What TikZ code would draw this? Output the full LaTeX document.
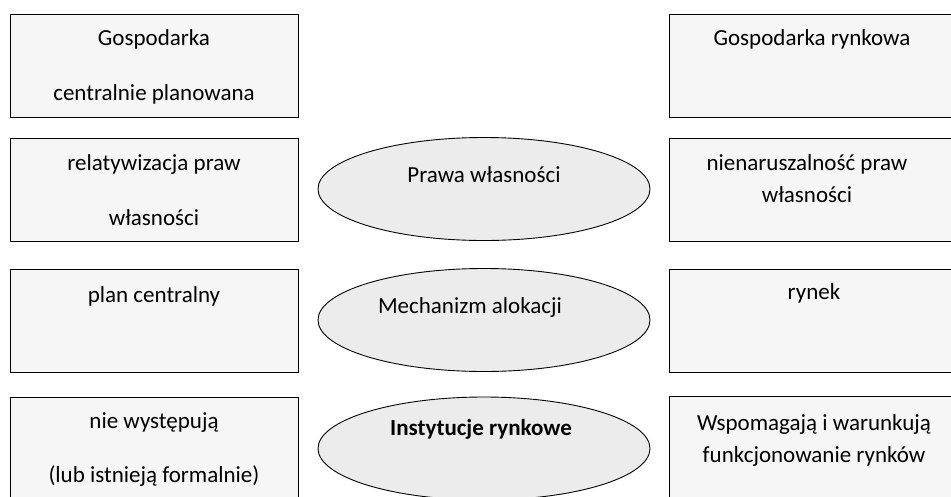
\documentclass[tikz,border=0pt]{standalone}
\usepackage{fontspec}
\setmainfont{Carlito}
\usetikzlibrary{shapes.geometric}
\begin{document}
\begin{tikzpicture}[x=1pt,y=-1pt,
  box/.style={rectangle,draw=black,line width=1pt,fill=gray!7,inner sep=0pt,minimum height=103pt},
  lbox/.style={box,minimum width=288pt},
  rbox/.style={box,minimum width=286pt},
  oval/.style={ellipse,draw=black,line width=0.9pt,fill=gray!15,inner sep=0pt,minimum width=332pt,minimum height=103pt},
  txt/.style={anchor=base,inner sep=0pt,font=\fontsize{23}{27}\selectfont}]
\useasboundingbox (0,0) rectangle (951,496);
\clip (0,0) rectangle (951,496);
% left column
\node[lbox] (L1) at (154,65.5) {};
\node[lbox] (L2) at (154,189.5) {};
\node[lbox] (L3) at (154,320.5) {};
\node[lbox] (L4) at (154,448.5) {};
% right column
\node[rbox] (R1) at (812,65.5) {};
\node[rbox] (R2) at (812,189.5) {};
\node[rbox] (R3) at (812,320.5) {};
\node[rbox] (R4) at (812,447.5) {};
% ellipses
\node[oval] (E1) at (484,189) {};
\node[oval] (E2) at (484,320) {};
\node[oval] (E3) at (484,448.5) {};
% texts left
\node[txt] (L1a) at (154,45.5) {Gospodarka};
\node[txt] (L1b) at (154,100) {centralnie planowana};
\node[txt] (L2a) at (154,170) {relatywizacja praw};
\node[txt] (L2b) at (154,225) {własności};
\node[txt] (L3a) at (154,302) {plan centralny};
\node[txt] (L4a) at (154,428) {nie występują};
\node[txt] (L4b) at (154,482) {(lub istnieją formalnie)};
% texts right
\node[txt] (R1a) at (812,45) {Gospodarka rynkowa};
\node[txt] (R2a) at (807,170) {nienaruszalność praw};
\node[txt] (R2b) at (807,202) {własności};
\node[txt] (R3a) at (814,299) {rynek};
\node[txt] (R4a) at (814,430) {Wspomagają i warunkują};
\node[txt] (R4b) at (814,462) {funkcjonowanie rynków};
% texts ellipses
\node[txt] (E1a) at (484,182) {Prawa własności};
\node[txt] (E2a) at (470,313) {Mechanizm alokacji};
\node[txt,font=\fontsize{23}{27}\selectfont\bfseries] (E3a) at (481,435) {Instytucje rynkowe};
\end{tikzpicture}
\end{document}
